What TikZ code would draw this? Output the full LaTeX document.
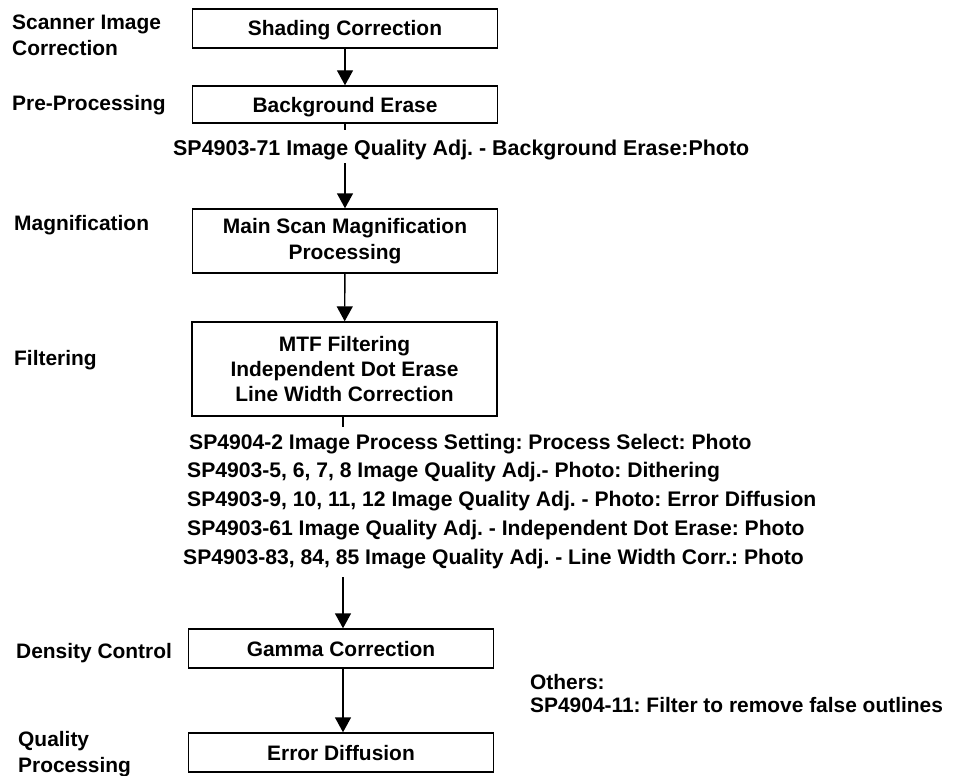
\documentclass[tikz,border=0pt]{standalone}
\usepackage{fontspec}
\setmainfont{Liberation Sans}
\usetikzlibrary{arrows.meta}
\frenchspacing
\begin{document}
\begin{tikzpicture}[x=1bp,y=-1bp,
  every node/.style={font=\bfseries\fontsize{21}{25.5}\selectfont, inner sep=0pt},
  procbox/.style={draw, line width=1.4bp, minimum width=305bp, align=center},
  onebox/.style={procbox, text height=15bp, text depth=0bp},
  lbl/.style={anchor=west, align=left},
  sp/.style={anchor=west, text height=15bp, text depth=0bp},
  spx/.style={sp, font=\bfseries\fontsize{21.5}{26}\selectfont},
  spd/.style={sp, font=\bfseries\fontsize{21.2}{26}\selectfont},
  conn/.style={line width=1.4bp},
  arr/.style={conn, -{Triangle[width=16bp,length=15bp]}}]
\useasboundingbox (0,0) rectangle (953,776);
% process boxes
\node[onebox, minimum height=39bp] (shade) at (345,28.5) {Shading Correction};
\node[onebox, minimum height=37bp] (bg) at (345,104.5) {Background Erase};
\node[procbox, minimum height=64bp] (mag) at (345,241) {Main Scan Magnification\\Processing};
\node[procbox, minimum height=94bp] (filt) at (344.5,369) {MTF Filtering\\Independent Dot Erase\\Line Width Correction};
\node[onebox, minimum height=39bp] (gam) at (341,648.5) {Gamma Correction};
\node[onebox, minimum height=39bp] (err) at (341,752.5) {Error Diffusion};
% stage labels
\node[lbl] (l1) at (12,35.5) {Scanner Image\\Correction};
\node[sp] (l2) at (12,103) {Pre-Processing};
\node[sp] (l3) at (14,223) {Magnification};
\node[sp] (l4) at (14,358) {Filtering};
\node[sp] (l5) at (16,651) {Density Control};
\node[lbl] (l6) at (18,754) {Quality\\Processing};
% setting texts
\node[spx] (t0) at (173,148) {SP4903-71 Image Quality Adj. - Background Erase:Photo};
\node[spd] (t1) at (189,442) {SP4904-2 Image Process Setting: Process Select: Photo};
\node[spd] (t2) at (187,470) {SP4903-5, 6, 7, 8 Image Quality Adj.- Photo: Dithering};
\node[spd] (t3) at (187,499) {SP4903-9, 10, 11, 12 Image Quality Adj. - Photo: Error Diffusion};
\node[spd] (t4) at (187,528) {SP4903-61 Image Quality Adj. - Independent Dot Erase: Photo};
\node[spd] (t5) at (183,557) {SP4903-83, 84, 85 Image Quality Adj. - Line Width Corr.: Photo};
\node[sp] (o1) at (530,682) {Others:};
\node[sp] (o2) at (530,705) {SP4904-11: Filter to remove false outlines};
% connectors
\coordinate (c1) at (345,130);
\coordinate (c2) at (345,163);
\coordinate (c3) at (343,427);
\coordinate (c4) at (343,577);
\draw[arr] (shade) -- (bg);
\draw[conn] (bg.south) -- (c1);
\draw[arr] (c2) -- (mag.north);
\draw[arr] (mag) -- (filt);
\draw[conn] (filt.south -| c3) -- (c3);
\draw[arr] (c4) -- (gam.north -| c4);
\draw[arr] (gam.south -| c4) -- (err.north -| c4);
\end{tikzpicture}
\end{document}
